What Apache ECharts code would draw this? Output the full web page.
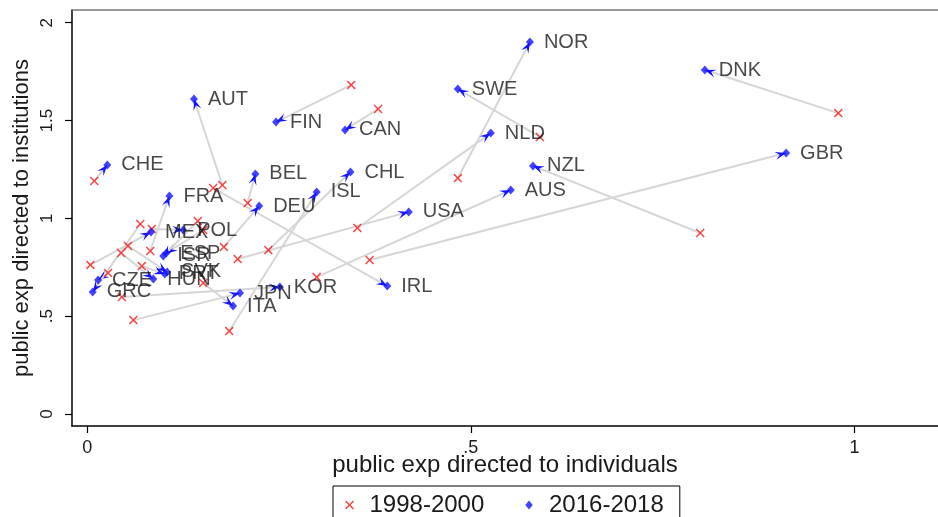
<!DOCTYPE html>
<html>
<head>
<meta charset="utf-8">
<script src="https://cdn.jsdelivr.net/npm/echarts@6/dist/echarts.min.js"></script>
<style>
html,body{margin:0;padding:0;background:#fff;}
#c{width:938px;height:517px;}
</style>
</head>
<body>
<div id="c"></div>
<script>
// ---- data ----
var countries = ['NOR','DNK','SWE','NLD','NZL','AUS','GBR','USA','IRL','KOR','JPN','ITA','CHL','ISL','CAN','FIN','AUT','BEL','DEU','CHE','FRA','MEX','POL','ESP','ISR','PRT','SVK','HUN','CZE','GRC'];
// 1998-2000
var xOld = [0.483,0.979,0.590,0.352,0.799,0.299,0.368,0.196,0.164,0.045,0.060,0.151,0.236,0.185,0.379,0.344,0.176,0.209,0.178,0.009,0.082,0.004,0.084,0.151,0.144,0.071,0.053,0.044,0.027,0.069];
var yOld = [1.206,1.538,1.416,0.951,0.925,0.700,0.787,0.792,1.155,0.598,0.480,0.670,0.838,0.424,1.559,1.682,1.170,1.078,0.854,1.191,0.833,0.762,0.946,0.940,0.986,0.756,0.859,0.823,0.721,0.971];
// 2016-2018
var xNew = [0.577,0.805,0.483,0.526,0.581,0.552,0.911,0.419,0.391,0.251,0.199,0.190,0.343,0.299,0.336,0.246,0.139,0.219,0.224,0.026,0.107,0.083,0.125,0.103,0.099,0.101,0.104,0.086,0.014,0.007];
var yNew = [1.901,1.758,1.661,1.436,1.268,1.145,1.334,1.033,0.654,0.649,0.618,0.552,1.237,1.135,1.452,1.492,1.610,1.227,1.063,1.273,1.114,0.930,0.940,0.823,0.808,0.716,0.726,0.690,0.685,0.624];
var seriesNames = ['1998-2000','2016-2018'];
var xTickValues = [0,0.5,1];
var xTickLabels = ['0','.5','1'];
var yTickValues = [0,0.5,1,1.5,2];
var yTickLabels = ['0','.5','1','1.5','2'];
var xTitle = 'public exp directed to individuals';
var yTitle = 'public exp directed to institutions';

// ---- build ----
var xPath = 'path://M0,1.2L1.2,0L5,3.8L8.8,0L10,1.2L6.2,5L10,8.8L8.8,10L5,6.2L1.2,10L0,8.8L3.8,5Z';
var dPath = 'path://M5,0L10,6L5,12L0,6Z';
var RED = '#f21d1d', BLUE = '#1414ff';
var arrows = [], oldPts = [], newPts = [];
for (var i = 0; i < countries.length; i++) {
  arrows.push([xOld[i], yOld[i], xNew[i], yNew[i]]);
  oldPts.push([xOld[i], yOld[i]]);
  newPts.push({value:[xNew[i], yNew[i]], name: countries[i]});
}
function fmt(vals, labs){ return function(v){ for (var k=0;k<vals.length;k++){ if (Math.abs(v-vals[k])<1e-9) return labs[k]; } return ''; }; }

var chart = echarts.init(document.getElementById('c'), null, {renderer:'canvas'});
chart.setOption({
  animation:false,
  backgroundColor:'#fff',
  textStyle:{fontFamily:'Liberation Sans, Arial, sans-serif'},
  grid:{left:72, right:0, top:10, bottom:91, containLabel:false},
  xAxis:{type:'value', min:-0.02, max:1.109,
    name:xTitle, nameLocation:'middle', nameGap:27, nameMoveOverlap:false,
    nameTextStyle:{fontSize:24, color:'#1a1a1a'},
    axisLine:{show:true, onZero:false, lineStyle:{color:'#000', width:1.5}},
    axisTick:{show:true, customValues:xTickValues, length:7, lineStyle:{color:'#000', width:1.2}},
    axisLabel:{customValues:xTickValues, formatter:fmt(xTickValues,xTickLabels), fontSize:18, color:'#1a1a1a', margin:13},
    splitLine:{show:false}},
  yAxis:{type:'value', min:-0.0613, max:2.065,
    name:yTitle, nameLocation:'middle', nameGap:39, nameRotate:90, nameMoveOverlap:false,
    nameTextStyle:{fontSize:22, color:'#1a1a1a'},
    axisLine:{show:true, onZero:false, lineStyle:{color:'#000', width:1.5}},
    axisTick:{show:true, customValues:yTickValues, length:7, lineStyle:{color:'#000', width:1.2}},
    axisLabel:{customValues:yTickValues, formatter:fmt(yTickValues,yTickLabels), fontSize:17, color:'#1a1a1a', rotate:90, margin:16},
    splitLine:{show:false}},
  legend:{
    left:333, top:486, orient:'horizontal',
    borderColor:'#000', borderWidth:1, padding:[7,16,12,12],
    itemGap:41, itemWidth:30, itemHeight:9,
    textStyle:{fontSize:24, color:'#1a1a1a'},
    data:[{name:seriesNames[0], icon:xPath},{name:seriesNames[1], icon:dPath}]
  },
  graphic:[{type:'line', shape:{x1:72,y1:10,x2:938,y2:10}, style:{stroke:'#777', lineWidth:1.5}, z:10}],
  series:[
    {type:'custom', name:'arrows', data:arrows, z:1, silent:true,
     renderItem:function(params, api){
       var p1 = api.coord([api.value(0), api.value(1)]);
       var p2 = api.coord([api.value(2), api.value(3)]);
       var dx = p2[0]-p1[0], dy = p2[1]-p1[1];
       var len = Math.sqrt(dx*dx+dy*dy) || 1;
       var ux = dx/len, uy = dy/len, nx = -uy, ny = ux;
       var L = 11, W = 4;
       var bx = p2[0]-ux*L, by = p2[1]-uy*L;
       var mx = p2[0]-ux*L*0.6, my = p2[1]-uy*L*0.6;
       return {type:'group', children:[
         {type:'line', shape:{x1:p1[0],y1:p1[1],x2:p2[0],y2:p2[1]}, style:{stroke:'#d6d6d6', lineWidth:2}},
         {type:'polygon', shape:{points:[[p2[0],p2[1]],[bx+nx*W,by+ny*W],[mx,my],[bx-nx*W,by-ny*W]]}, style:{fill:BLUE}}
       ]};
     }},
    {type:'scatter', name:seriesNames[0], data:oldPts, symbol:xPath, symbolSize:9, z:3,
     itemStyle:{color:RED}},
    {type:'scatter', name:seriesNames[1], data:newPts, symbol:'diamond', symbolSize:[8,9], z:4,
     itemStyle:{color:BLUE},
     label:{show:true, position:'right', distance:10, formatter:'{b}', fontSize:20, color:'#1a1a1a'}}
  ]
});
</script>
</body>
</html>
